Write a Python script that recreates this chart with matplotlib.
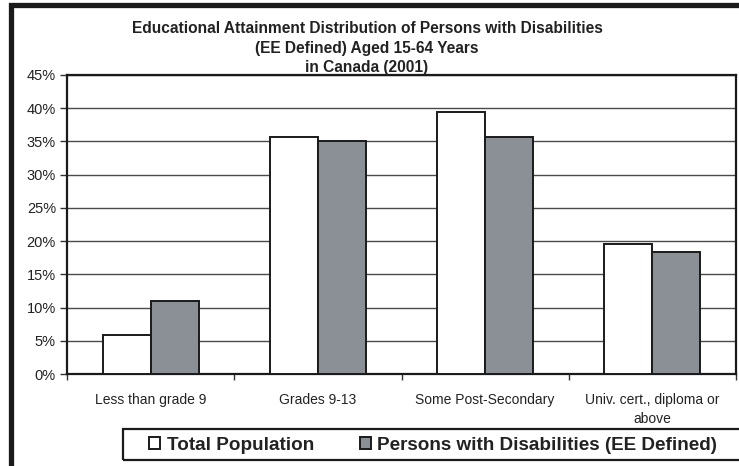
import matplotlib
matplotlib.use("Agg")
import matplotlib.pyplot as plt
from matplotlib.patches import Rectangle
from matplotlib.ticker import MultipleLocator, FuncFormatter
import numpy as np

plt.rcParams['font.family'] = ['Liberation Sans', 'DejaVu Sans']

categories = ["Less than grade 9", "Grades 9-13", "Some Post-Secondary",
              "Univ. cert., diploma or\nabove"]
total_population = [5.9, 35.6, 39.4, 19.5]
persons_with_disabilities = [11.0, 35.1, 35.6, 18.3]
series_names = ["Total Population", "Persons with Disabilities (EE Defined)"]
title = ("Educational Attainment Distribution of Persons with Disabilities\n"
         "(EE Defined) Aged 15-64 Years\nin Canada (2001)")

W, H = 739, 466
fig = plt.figure(figsize=(W / 100, H / 100), dpi=100)
fig.patch.set_facecolor("white")

# outer frame (left and top thick edges)
fig.add_artist(Rectangle((10.5 / W, -0.1), 1.2, 1.1 - 5 / H, transform=fig.transFigure,
                         fill=False, edgecolor="#1a1a1a", linewidth=3.8, zorder=0))

ax = fig.add_axes([67 / W, (H - 374) / H, (736 - 67) / W, (374 - 75) / H])
x = np.arange(len(categories))
bw = 0.287
bars1 = ax.bar(x - bw / 2, total_population, bw, color="white",
               edgecolor="#1a1a1a", linewidth=1.4, zorder=3, label=series_names[0])
bars2 = ax.bar(x + bw / 2, persons_with_disabilities, bw, color="#8a9096",
               edgecolor="#1a1a1a", linewidth=1.4, zorder=3, label=series_names[1])

ax.set_xlim(-0.5, len(categories) - 0.5)
ax.set_ylim(0, 45)
ax.yaxis.set_major_locator(MultipleLocator(5))
ax.yaxis.set_major_formatter(FuncFormatter(lambda v, p: f"{v:.0f}%"))
ax.grid(axis="y", color="#4a4a4a", linewidth=1.0, zorder=1)
ax.set_axisbelow(True)

ax.set_xticks(np.arange(len(categories) + 1) - 0.5)
ax.set_xticklabels([])
ax.set_xticks(x, minor=True)
ax.set_xticklabels(categories, minor=True, fontsize=10, color="#222222",
                   linespacing=1.4)
ax.tick_params(axis="x", which="minor", length=0, pad=14)
ax.tick_params(axis="x", which="major", length=4, width=1, color="#333333", direction="out")
ax.tick_params(axis="y", length=5, width=1, color="#333333", labelsize=10.5,
               labelcolor="#222222", pad=3)
for s in ax.spines.values():
    s.set_color("#1a1a1a")
    s.set_linewidth(1.6)

fig.text(367 / W, 1 - 21 / H, title, ha="center", va="top", fontsize=11.2,
         fontweight="bold", color="#222222", linespacing=1.38)

# legend box
fig.add_artist(Rectangle((123 / W, (H - 460) / H), 700 / W, 31 / H,
                         transform=fig.transFigure, fill=False,
                         edgecolor="#1a1a1a", linewidth=1.6))
fig.legend(handles=[bars1, bars2], labels=series_names, loc="center left",
           bbox_to_anchor=(149 / W, (H - 445.5) / H), ncol=2, frameon=False,
           prop={"size": 13.6, "weight": "bold"}, handlelength=0.6,
           handleheight=0.6, handletextpad=0.35, columnspacing=2.4,
           borderpad=0, borderaxespad=0, labelcolor="#222222")

fig.savefig("out.png", dpi=100, facecolor="white")
